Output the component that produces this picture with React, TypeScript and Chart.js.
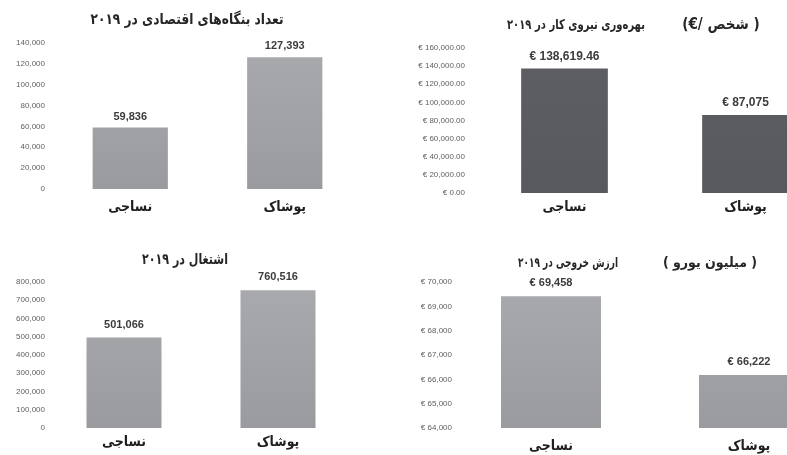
import React, { useEffect, useRef } from 'react';
import { Chart, registerables } from 'chart.js';

Chart.register(...registerables);

// ---------- data ----------
const categories = ['نساجی', 'پوشاک'];

const firmsTitle = 'تعداد بنگاه‌های اقتصادی در ۲۰۱۹';
const firmsValues = [59836, 127393];

const productivityTitle = 'بهره‌وری نیروی کار در ۲۰۱۹';
const productivityUnit = '(€/ شخص )';
const productivityValues = [138619.46, 87075];

const employmentTitle = 'اشتغال در ۲۰۱۹';
const employmentValues = [501066, 760516];

const outputTitle = 'ارزش خروجی در ۲۰۱۹';
const outputUnit = '( میلیون یورو )';
const outputValues = [69458, 66222];

// ---------- formatting ----------
const fmtInt = (v: number) => Math.round(v).toLocaleString('en-US');
const fmtEuro2 = (v: number) =>
  '€ ' + v.toLocaleString('en-US', { minimumFractionDigits: 2, maximumFractionDigits: 2 });
const fmtEuro = (v: number) => '€ ' + Math.round(v).toLocaleString('en-US');
const fmtEuroAuto = (v: number) => (Number.isInteger(v) ? fmtEuro(v) : fmtEuro2(v));

const PERSIAN_FONT = "'DejaVu Sans Condensed', 'DejaVu Sans', sans-serif";
const NUM_FONT = "'Liberation Sans', Arial, sans-serif";

type TitlePiece = { text: string; x: number; y: number; w: number; size: number };

type PanelProps = {
  left: number;
  top: number;
  width: number;
  height: number;
  values: number[];
  yMin: number;
  yMax: number;
  yStep: number;
  tickFormat: (v: number) => string;
  valueFormat: (v: number) => string;
  colors: [string, string];
  axisWidth: number;
  axisHeight: number;
  padTop: number;
  padRight: number;
  tickPad: number;
  catPad: number;
  barPct: number;
  titles: TitlePiece[];
  valueOffset: number;
  valueFontSize: number;
};

function Panel(p: PanelProps) {
  const ref = useRef<HTMLCanvasElement>(null);

  useEffect(() => {
    if (!ref.current) return;

    const valueLabels = {
      id: 'valueLabels',
      afterDatasetsDraw(chart: any) {
        const { ctx } = chart;
        const meta = chart.getDatasetMeta(0);
        ctx.save();
        ctx.font = `bold ${p.valueFontSize}px ${NUM_FONT}`;
        ctx.fillStyle = '#3c3c3c';
        ctx.textAlign = 'center';
        ctx.textBaseline = 'middle';
        meta.data.forEach((el: any, i: number) => {
          ctx.fillText(p.valueFormat(p.values[i]), el.x, el.y - p.valueOffset);
        });
        ctx.restore();
      },
    };

    const titlePlugin = {
      id: 'panelTitle',
      afterDraw(chart: any) {
        const { ctx } = chart;
        ctx.save();
        ctx.fillStyle = '#262626';
        ctx.textAlign = 'center';
        ctx.textBaseline = 'middle';
        p.titles.forEach((t) => {
          ctx.font = `bold ${t.size}px ${PERSIAN_FONT}`;
          ctx.fillText(t.text, t.x - p.left, t.y - p.top, t.w);
        });
        ctx.restore();
      },
    };

    const chart = new Chart(ref.current, {
      type: 'bar',
      data: {
        labels: categories,
        datasets: [
          {
            data: p.values,
            backgroundColor: (c: any) => {
              const area = c.chart.chartArea;
              if (!area) return p.colors[0];
              const g = c.chart.ctx.createLinearGradient(0, area.top, 0, area.bottom);
              g.addColorStop(0, p.colors[0]);
              g.addColorStop(1, p.colors[1]);
              return g;
            },
            borderColor: 'rgba(255,255,255,0.35)',
            borderWidth: 1,
            categoryPercentage: 1,
            barPercentage: p.barPct,
          },
        ],
      },
      options: {
        responsive: false,
        animation: false,
        layout: { padding: { top: p.padTop, right: p.padRight, left: 0, bottom: 0 } },
        plugins: {
          legend: { display: false },
          title: { display: false },
          tooltip: { enabled: false },
        },
        scales: {
          x: {
            grid: { display: false, drawTicks: false },
            border: { display: false },
            ticks: {
              padding: p.catPad,
              color: '#1f1f1f',
              font: { family: PERSIAN_FONT, size: 14, weight: 'bold' },
            },
            afterFit: (s: any) => {
              s.height = p.axisHeight;
            },
          },
          y: {
            min: p.yMin,
            max: p.yMax,
            grid: { display: false, drawTicks: false },
            border: { display: false },
            ticks: {
              stepSize: p.yStep,
              padding: p.tickPad,
              color: '#5e5e5e',
              font: { family: NUM_FONT, size: 8 },
              callback: (v: any) => p.tickFormat(Number(v)),
            },
            afterFit: (s: any) => {
              s.width = p.axisWidth;
            },
          },
        },
      },
      plugins: [valueLabels, titlePlugin],
    } as any);

    return () => chart.destroy();
  }, []);

  return (
    <div style={{ position: 'absolute', left: p.left, top: p.top, width: p.width, height: p.height }}>
      <canvas ref={ref} width={p.width} height={p.height} style={{ display: 'block' }} />
    </div>
  );
}

const lightGray: [string, string] = ['#a9aaad', '#9a9b9e'];
const darkGray: [string, string] = ['#5e5f62', '#58595c'];

export default function App() {
  return (
    <div
      style={{
        position: 'absolute',
        left: 0,
        top: 0,
        width: 787,
        height: 455,
        overflow: 'hidden',
        background: '#ffffff',
      }}
    >
      <Panel
        left={0}
        top={0}
        width={395}
        height={225}
        values={firmsValues}
        yMin={0}
        yMax={140000}
        yStep={20000}
        tickFormat={fmtInt}
        valueFormat={fmtInt}
        colors={lightGray}
        axisWidth={53}
        axisHeight={36}
        padTop={43}
        padRight={33}
        tickPad={8}
        catPad={10}
        barPct={0.5}
        titles={[{ text: firmsTitle, x: 187, y: 20, w: 193, size: 15 }]}
        valueOffset={10}
        valueFontSize={11}
      />
      <Panel
        left={400}
        top={0}
        width={440}
        height={225}
        values={productivityValues}
        yMin={0}
        yMax={160000}
        yStep={20000}
        tickFormat={fmtEuro2}
        valueFormat={fmtEuroAuto}
        colors={darkGray}
        axisWidth={74}
        axisHeight={32}
        padTop={48}
        padRight={4}
        tickPad={9}
        catPad={6}
        barPct={0.49}
        titles={[
          { text: productivityTitle, x: 576, y: 25, w: 138, size: 13.5 },
          { text: productivityUnit, x: 721, y: 25, w: 78, size: 15 },
        ]}
        valueOffset={11}
        valueFontSize={12}
      />
      <Panel
        left={0}
        top={235}
        width={395}
        height={220}
        values={employmentValues}
        yMin={0}
        yMax={800000}
        yStep={100000}
        tickFormat={fmtInt}
        valueFormat={fmtInt}
        colors={lightGray}
        axisWidth={47}
        axisHeight={27}
        padTop={47}
        padRight={40}
        tickPad={2}
        catPad={6}
        barPct={0.5}
        titles={[{ text: employmentTitle, x: 185, y: 260, w: 86, size: 15 }]}
        valueOffset={12}
        valueFontSize={11}
      />
      <Panel
        left={400}
        top={235}
        width={450}
        height={220}
        values={outputValues}
        yMin={64000}
        yMax={70000}
        yStep={1000}
        tickFormat={fmtEuro}
        valueFormat={fmtEuro}
        colors={lightGray}
        axisWidth={52}
        axisHeight={27}
        padTop={47}
        padRight={2}
        tickPad={0}
        catPad={10}
        barPct={0.515}
        titles={[
          { text: outputTitle, x: 568, y: 263, w: 100, size: 13.5 },
          { text: outputUnit, x: 710, y: 263, w: 95, size: 14 },
        ]}
        valueOffset={12}
        valueFontSize={11}
      />
    </div>
  );
}
